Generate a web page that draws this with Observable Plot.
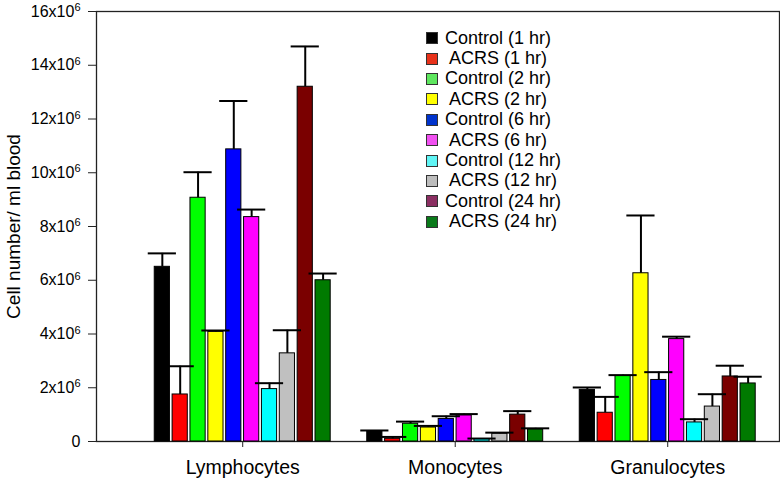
<!DOCTYPE html>
<html>
<head>
<meta charset="utf-8">
<script src="https://cdn.jsdelivr.net/npm/d3@7"></script>
<script src="https://cdn.jsdelivr.net/npm/@observablehq/plot@0.6"></script>
<style>
  body { margin: 0; background: #fff; }
  #wrap { position: relative; width: 780px; height: 480px; font-family: "Liberation Sans", Arial, Helvetica, sans-serif; }
  #wrap svg { position: absolute; left: 0; top: 0; }
  #legend { position: absolute; left: 426px; top: 28px; font-size: 18px; color: #000; }
  #legend .row { display: flex; align-items: center; height: 20.4px; white-space: pre; }
  #legend .sw { width: 12px; height: 12px; border: 1px solid #333; box-sizing: border-box; margin-right: 7px; }
</style>
</head>
<body>
<div id="wrap"><div id="legend"></div></div>
<script>
// Categories
const groups = ["Lymphocytes", "Monocytes", "Granulocytes"];
const series = ["Control (1 hr)", "ACRS (1 hr)", "Control (2 hr)", "ACRS (2 hr)", "Control (6 hr)",
                "ACRS (6 hr)", "Control (12 hr)", "ACRS (12 hr)", "Control (24 hr)", "ACRS (24 hr)"];
const colors = ["#000000", "#ff0000", "#00ff00", "#ffff00", "#0000ff", "#ff00ff", "#00ffff", "#c0c0c0", "#7a0000", "#007a00"];
const legendColors = ["#000000", "#e8321a", "#5ee65e", "#ffff00", "#0033cc", "#f050f0", "#60f5f5", "#bdbdbd", "#8b2f62", "#0a7a1a"];

// Values (x10^6 cells / ml blood), one entry per series
const lymphocytes    = [6.5, 1.75, 9.07, 4.08, 10.87, 8.35, 1.95, 3.28, 13.2, 6.0];
const lymphocytesErr = [0.5, 1.05, 0.95, 0.05, 1.8, 0.28, 0.22, 0.86, 1.5, 0.25];
const monocytes      = [0.38, 0.1, 0.66, 0.52, 0.84, 0.97, 0.09, 0.29, 1.0, 0.45];
const monocytesErr   = [0.03, 0.07, 0.08, 0.06, 0.1, 0.05, 0.02, 0.04, 0.13, 0.04];
const granulocytes   = [1.92, 1.07, 2.44, 6.26, 2.29, 3.81, 0.71, 1.3, 2.42, 2.16];
const granulocytesErr= [0.09, 0.59, 0.03, 2.15, 0.29, 0.09, 0.12, 0.46, 0.4, 0.25];

// Axis ticks / labels
const yTicks = [0, 2, 4, 6, 8, 10, 12, 14, 16];
const yLabel = "Cell number/ ml blood";

const valueSets = [lymphocytes, monocytes, granulocytes];
const errSets = [lymphocytesErr, monocytesErr, granulocytesErr];
const table = groups.flatMap((g, gi) => series.map((s, si) => ({
  group: g, series: s, value: valueSets[gi][si], top: valueSets[gi][si] + errSets[gi][si]
})));

const common = {
  width: 780,
  height: 480,
  marginLeft: 96,
  marginRight: 1,
  marginTop: 11,
  marginBottom: 39,
  y: { domain: [0, 16], axis: null }
};
const font = "Liberation Sans, Arial, Helvetica, sans-serif";

// Base layer: frame, y axis, y label
const base = Plot.plot({
  ...common,
  style: { fontFamily: font, background: "white", color: "black" },
  marks: [
    Plot.frame({ stroke: "#222", strokeWidth: 1.3 }),
    Plot.axisY({ ticks: yTicks, tickSize: 8, tickPadding: 8, fontSize: 16, label: null,
                 tickFormat: d => d === 0 ? "0" : d + "x10", stroke: "#222" }),
    Plot.text([yLabel], { frameAnchor: "left", textAnchor: "middle", rotate: -90, dx: -83, fontSize: 19, fill: "black" })
  ]
});

// Superscript exponent on the y tick labels
d3.select(base).selectAll("text").each(function () {
  const t = d3.select(this);
  const s = t.text();
  if (/x10$/.test(s)) {
    t.append("tspan").attr("font-size", 11).attr("dy", "-0.5em").text("6");
  }
});

// Bar layer: grouped bars with error bars
const bars = Plot.plot({
  ...common,
  style: { fontFamily: font, background: "transparent", color: "black" },
  fx: { domain: groups, paddingInner: 0.172, paddingOuter: 0.193, align: 0.71, round: false, label: null },
  x: { domain: series, paddingInner: 0.15, paddingOuter: 0, round: false, axis: null },
  color: { domain: series, range: colors },
  marks: [
    Plot.barY(table, { fx: "group", x: "series", y: "value", fill: "series", stroke: "black", strokeWidth: 1 }),
    Plot.ruleX(table, { fx: "group", x: "series", y1: "value", y2: "top", stroke: "black", strokeWidth: 2 }),
    Plot.tickY(table, { fx: "group", x: "series", y: "top", stroke: "black", strokeWidth: 2, insetLeft: -6.5, insetRight: -6.5 }),
    Plot.axisFx({ anchor: "bottom", tickSize: 6, tickPadding: 13, fontSize: 19.5, label: null, stroke: "#222" })
  ]
});

const wrap = document.getElementById("wrap");
wrap.insertBefore(bars, wrap.firstChild);
wrap.insertBefore(base, wrap.firstChild);

const legend = document.getElementById("legend");
series.forEach((s, i) => {
  const row = document.createElement("div");
  row.className = "row";
  const sw = document.createElement("span");
  sw.className = "sw";
  sw.style.background = legendColors[i];
  const t = document.createElement("span");
  t.textContent = s.startsWith("ACRS") ? " " + s : s;
  row.appendChild(sw);
  row.appendChild(t);
  legend.appendChild(row);
});
</script>
</body>
</html>
